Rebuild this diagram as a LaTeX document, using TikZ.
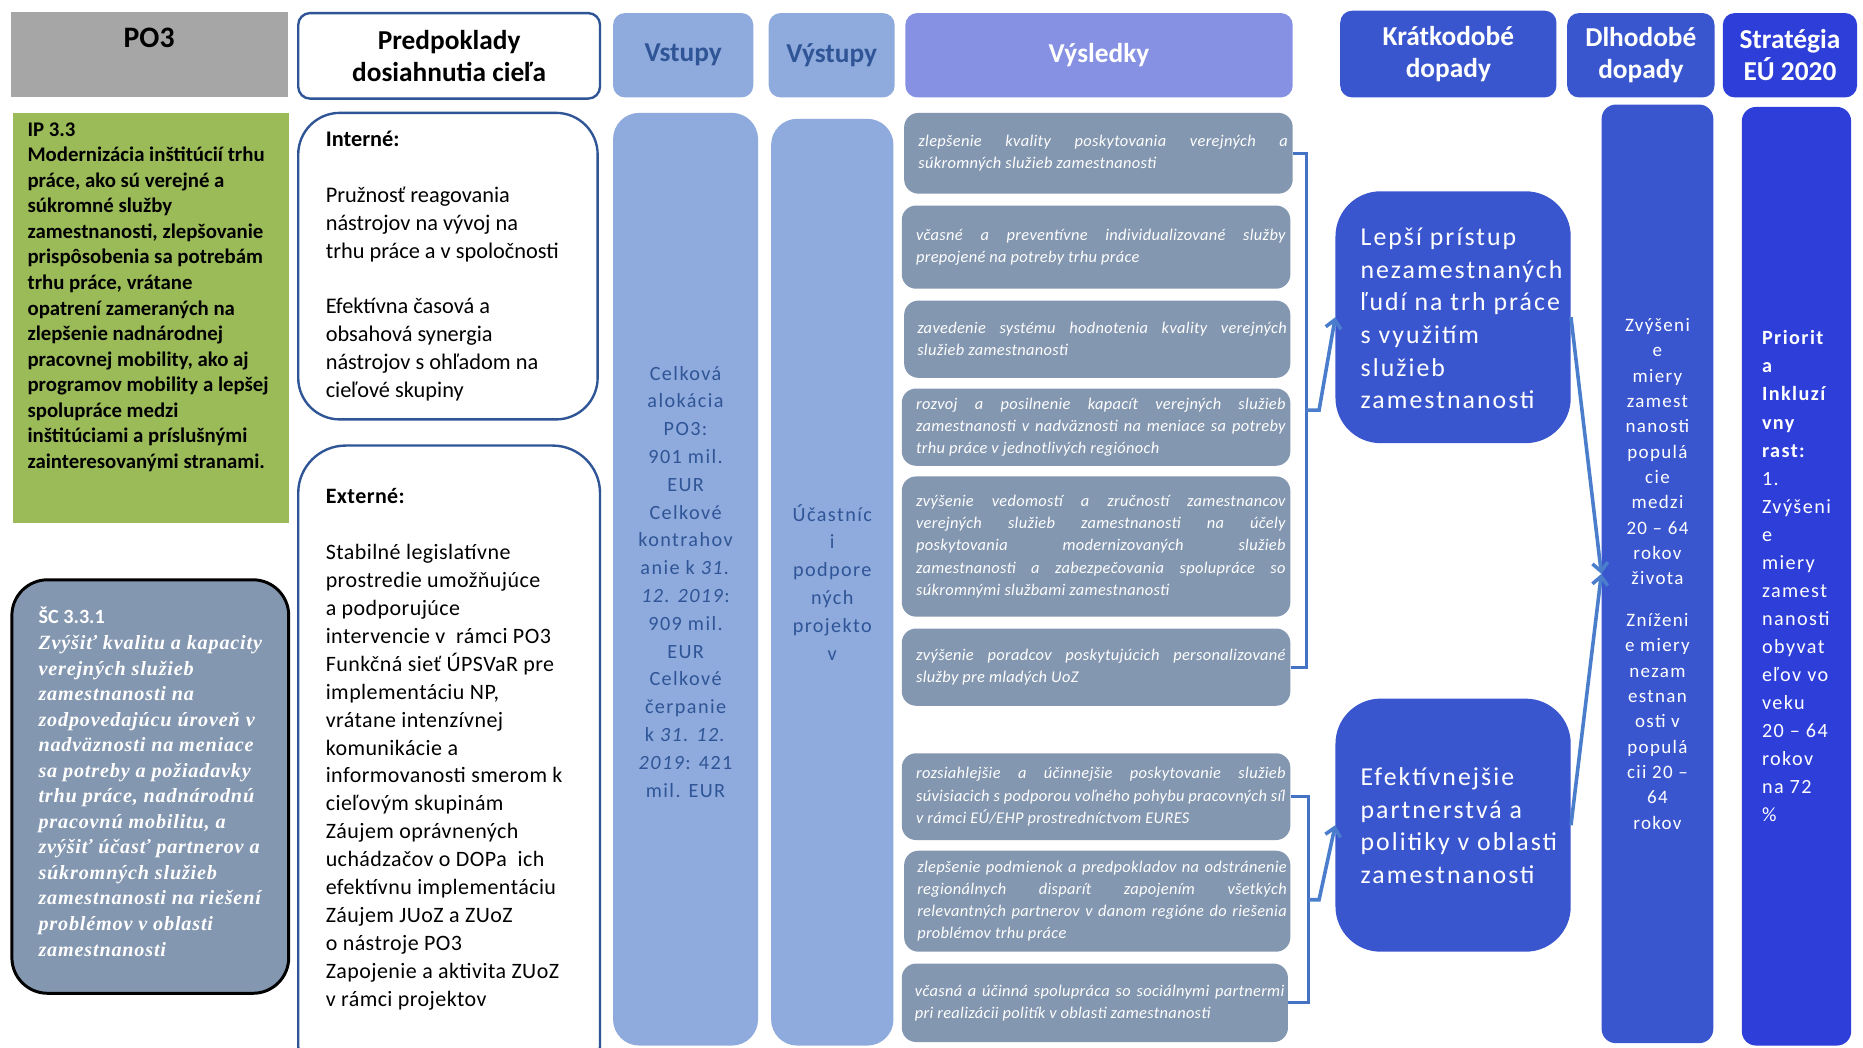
\documentclass[tikz,border=0pt]{standalone}
\usepackage{fontspec}
\setmainfont{Carlito}
\newfontfamily\scfont{Liberation Serif}[LetterSpace=4]
\newfontfamily\spwide{Carlito}[LetterSpace=8]
\newfontfamily\spmid{Carlito}[LetterSpace=7]
\newfontfamily\spext{Carlito}[LetterSpace=2]
\usetikzlibrary{fit,calc,arrows.meta}
\definecolor{po3gray}{HTML}{A6A6A6}
\definecolor{ipgreen}{HTML}{9BBB59}
\definecolor{frameblue}{HTML}{2F5597}
\definecolor{inpblue}{HTML}{8FAADC}
\definecolor{reshead}{HTML}{8691E3}
\definecolor{resfill}{HTML}{8497B0}
\definecolor{impblue}{HTML}{3A56CF}
\definecolor{eublue}{HTML}{2E3ED9}
\definecolor{lineblue}{HTML}{4472C4}
\definecolor{arrowblue}{HTML}{4A7DCB}
\begin{document}
\begin{tikzpicture}[x=1pt,y=-1pt,
    box/.style={inner sep=0pt,rounded corners=10pt},
    txt/.style={inner sep=0pt},
    hdr/.style={txt,align=center,text=white,
      font=\bfseries\fontsize{23}{27}\selectfont},
    frame/.style={box,draw=frameblue,line width=2pt,fill=white},
    col/.style={box,rounded corners=22pt,fill=inpblue},
    coltext/.style={txt,text=frameblue,align=center,
      font=\spmid\fontsize{17}{23.4}\selectfont},
    res/.style={box,rounded corners=12pt,fill=resfill},
    restext/.style={txt,xshift=4pt,text=white,text width=311pt,align=justify,
      font=\spext\itshape\fontsize{13.8}{18.7}\selectfont},
    shortbox/.style={box,rounded corners=38pt,fill=impblue},
    shorttext/.style={txt,anchor=west,align=left,text=white,
      font=\spwide\fontsize{21.7}{27.5}\selectfont},
    brk/.style={draw=lineblue,line width=2.5pt},
    arr/.style={draw=arrowblue,line width=3pt,
      -{Straight Barb[length=7pt,width=13pt]}}]
  \useasboundingbox (0,0) rectangle (1568,882);
  \clip (0,0) rectangle (1568,882);
  \fill[white] (0,0) rectangle (1568,882);
  % header row
  \node[box,rounded corners=0pt,fill=po3gray,fit={(9,10) (242,82)}] (po3) {};
  \node[font=\bfseries\fontsize{25}{30}\selectfont] (po3t) at (125.5,32) {PO3};
  \node[frame,fit={(251,11) (505,83)}] (pred) {};
  \node[hdr,text=black] (predt) at (pred) {Predpoklady\\dosiahnutia cieľa};
  \node[box,fill=inpblue,fit={(516,11) (634,82)}] (vst) {};
  \node[hdr,text=frameblue] (vstt) at (vst) {Vstupy};
  \node[box,fill=inpblue,fit={(647,11) (753,82)}] (vyst) {};
  \node[hdr,text=frameblue] (vystt) at (vyst) {Výstupy};
  \node[box,fill=reshead,fit={(762,11) (1088,82)}] (vysl) {};
  \node[hdr] (vyslt) at (vysl) {Výsledky};
  \node[box,fill=impblue,fit={(1128,9) (1310,82)}] (kratk) {};
  \node[hdr] (kratkt) at (kratk) {Krátkodobé\\dopady};
  \node[box,fill=impblue,fit={(1319,11) (1443,82)}] (dlh) {};
  \node[hdr] (dlht) at (dlh) {Dlhodobé\\dopady};
  \node[box,fill=eublue,fit={(1450,11) (1563,82)}] (eu) {};
  \node[hdr] (eut) at (eu) {Stratégia\\EÚ 2020};
  % left column
  \node[box,rounded corners=0pt,fill=ipgreen,fit={(11,95) (243,440)}] (ip) {};
  \node[txt,anchor=north west,align=left,
    font=\bfseries\fontsize{17.5}{21.5}\selectfont] (ipt) at (23,103)
    {IP 3.3\\ Modernizácia inštitúcií trhu\\ práce, ako sú verejné a\\
     súkromné služby\\ zamestnanosti, zlepšovanie\\ prispôsobenia sa potrebám\\
     trhu práce, vrátane\\ opatrení zameraných na\\ zlepšenie nadnárodnej\\
     pracovnej mobility, ako aj\\ programov mobility a lepšej\\ spolupráce medzi\\
     inštitúciami a príslušnými\\ zainteresovanými stranami.};
  \node[box,rounded corners=30pt,fill=resfill,draw=black,line width=2.5pt,
    fit={(10,488) (243,836)}] (sc) {};
  \node[txt,text=white,align=left,
    font=\scfont\bfseries\itshape\fontsize{17}{21.5}\selectfont] (sct)
    at ([yshift=4pt]sc.center)
    {{\normalfont\bfseries ŠC 3.3.1}\\ Zvýšiť kvalitu a kapacity\\ verejných služieb\\
     zamestnanosti na\\ zodpovedajúcu úroveň v\\ nadväznosti na meniace\\
     sa potreby a požiadavky\\ trhu práce, nadnárodnú\\ pracovnú mobilitu, a\\
     zvýšiť účasť partnerov a\\ súkromných služieb\\ zamestnanosti na riešení\\
     problémov v oblasti\\ zamestnanosti};
  % assumptions
  \node[frame,rounded corners=35pt,fit={(251,95) (503,353)}] (int) {};
  \node[txt,anchor=west,align=left,font=\fontsize{18.8}{23.5}\selectfont] (intt)
    at (274,224)
    {\textbf{Interné:}\\[23.5pt] Pružnosť reagovania\\ nástrojov na vývoj na\\
     trhu práce a v spoločnosti\\[23.5pt] Efektívna časová a\\ obsahová synergia\\
     nástrojov s ohľadom na\\ cieľové skupiny};
  \node[frame,rounded corners=40pt,fit={(251,375) (505,920)}] (ext) {};
  \node[txt,anchor=north west,align=left,
    font=\spext\fontsize{18.5}{23.5}\selectfont] (extt) at (274,411)
    {\textbf{Externé:}\\[23.5pt] Stabilné legislatívne\\ prostredie umožňujúce\\
     a podporujúce\\ intervencie v~ rámci PO3\\ Funkčná sieť ÚPSVaR pre\\
     implementáciu NP,\\ vrátane intenzívnej\\ komunikácie a\\
     informovanosti smerom k\\ cieľovým skupinám\\ Záujem oprávnených\\
     uchádzačov o DOPa~ ich\\ efektívnu implementáciu\\ Záujem JUoZ a ZUoZ\\
     o nástroje PO3\\ Zapojenie a aktivita ZUoZ\\ v rámci projektov};
  % inputs, outputs
  \node[col,fit={(516,95) (638,880)}] (vstb) {};
  \node[coltext] (vstbt) at ([yshift=-2pt]vstb.center)
    {Celková\\ alokácia\\ PO3:\\ 901 mil.\\ EUR\\ Celkové\\ kontrahov\\
     anie k \textit{31.}\\ \textit{12. 2019}:\\ 909 mil.\\ EUR\\ Celkové\\
     čerpanie\\ k \textit{31. 12.}\\ \textit{2019}: 421\\ mil. EUR};
  \node[col,fit={(649,100) (752,880)}] (vystb) {};
  \node[coltext] (vystbt) at (vystb) {Účastníc\\ i\\ podpore\\ ných\\ projekto\\ v};
  % results
  \node[res,fit={(761,95) (1088,163)}] (r1) {};
  \node[restext] (r1t) at (r1)
    {zlepšenie kvality poskytovania verejných a\linebreak
     súkromných služieb zamestnanosti};
  \node[res,fit={(759,173) (1086,243)}] (r2) {};
  \node[restext] (r2t) at (r2)
    {včasné a preventívne individualizované služby\linebreak
     prepojené na potreby trhu práce};
  \node[res,fit={(761,253) (1086,318)}] (r3) {};
  \node[restext] (r3t) at (r3)
    {zavedenie systému hodnotenia kvality verejných\linebreak
     služieb zamestnanosti};
  \node[res,fit={(759,327) (1086,392)}] (r4) {};
  \node[restext] (r4t) at (r4)
    {rozvoj a posilnenie kapacít verejných služieb\linebreak
     zamestnanosti v nadväznosti na meniace sa potreby\linebreak
     trhu práce v jednotlivých regiónoch};
  \node[res,fit={(759,401) (1086,519)}] (r5) {};
  \node[restext] (r5t) at (r5)
    {zvýšenie vedomostí a zručností zamestnancov\linebreak
     verejných služieb zamestnanosti na účely\linebreak
     poskytovania modernizovaných služieb\linebreak
     zamestnanosti a zabezpečovania spolupráce so\linebreak
     súkromnými službami zamestnanosti};
  \node[res,fit={(759,529) (1086,594)}] (r6) {};
  \node[restext] (r6t) at (r6)
    {zvýšenie poradcov poskytujúcich personalizované\linebreak
     služby pre mladých UoZ};
  \node[res,fit={(759,634) (1086,707)}] (r7) {};
  \node[restext] (r7t) at (r7)
    {rozsiahlejšie a účinnejšie poskytovanie služieb\linebreak
     súvisiacich s podporou voľného pohybu pracovných síl\linebreak
     v rámci EÚ/EHP prostredníctvom EURES};
  \node[res,fit={(761,716) (1086,801)}] (r8) {};
  \node[restext] (r8t) at (r8)
    {zlepšenie podmienok a predpokladov na odstránenie\linebreak
     regionálnych disparít zapojením všetkých\linebreak
     relevantných partnerov v danom regióne do riešenia\linebreak
     problémov trhu práce};
  \node[res,fit={(759,811) (1084,877)}] (r9) {};
  \node[restext] (r9t) at (r9)
    {včasná a účinná spolupráca so sociálnymi partnermi\linebreak
     pri realizácii politík v oblasti zamestnanosti};
  % impacts
  \node[shortbox,fit={(1124,161) (1322,373)}] (s1) {};
  \node[shorttext] (s1t) at (1145,268)
    {Lepší prístup\\ nezamestnaných\\ ľudí na trh práce\\ s využitím\\
     služieb\\ zamestnanosti};
  \node[shortbox,fit={(1124,588) (1322,801)}] (s2) {};
  \node[shorttext] (s2t) at (1145,695)
    {Efektívnejšie\\ partnerstvá a\\ politiky v oblasti\\ zamestnanosti};
  \node[box,rounded corners=12pt,fill=impblue,fit={(1348,88) (1442,878)}] (lt) {};
  \node[txt,text=white,align=center,
    font=\spmid\fontsize{16}{21.3}\selectfont] (ltt) at (lt)
    {Zvýšeni\\ e\\ miery\\ zamest\\ nanosti\\ populá\\ cie\\ medzi\\ 20 – 64\\
     rokov\\ života\\[14pt] Zníženi\\ e miery\\ nezam\\ estnan\\ osti v\\ populá\\
     cii 20 –\\ 64\\ rokov};
  \node[box,rounded corners=12pt,fill=eublue,fit={(1466,90) (1558,880)}] (st) {};
  \node[txt,text=white,align=left,
    font=\spmid\fontsize{17}{23.6}\selectfont] (stt) at (st)
    {\textbf{Priorit}\\ \textbf{a}\\ \textbf{Inkluzí}\\ \textbf{vny}\\
     \textbf{rast:}\\ 1.\\ Zvýšeni\\ e\\ miery\\ zamest\\ nanosti\\ obyvat\\
     eľov vo\\ veku\\ 20 – 64\\ rokov\\ na 72\\ \%};
  % connectors
  \draw[brk] (r1.east) -- ++(11,0) coordinate (b1top) |- (r6.east);
  \coordinate (b1) at ($(b1top)!0.5!(b1top |- r6.east)$);
  \draw[arr] (b1) -- ++(11,0) -- (s1.west);
  \draw[brk] (r7.east) -- ++(15,0) coordinate (b2top) |- (r9.east);
  \coordinate (b2) at ($(b2top)!0.5!(b2top |- r9.east)$);
  \draw[arr] (b2) -- ++(9,0) -- (s2.west);
  \draw[arr] (s1.east) -- (lt.west);
  \draw[arr] (s2.east) -- (lt.west);
\end{tikzpicture}
\end{document}
